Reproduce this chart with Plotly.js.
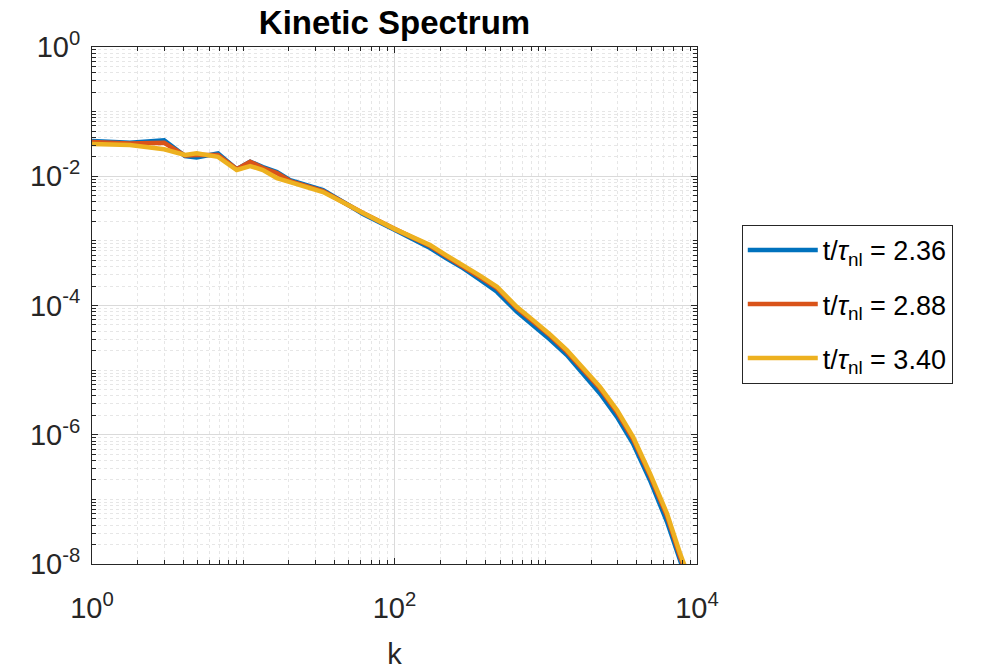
<!DOCTYPE html>
<html>
<head>
<meta charset="utf-8">
<script src="https://cdn.plot.ly/plotly-3.0.1.min.js"></script>
<style>html,body{margin:0;padding:0;background:#fff;}#chart{width:986px;height:670px;}</style>
</head>
<body>
<div id="chart"></div>
<script>
// wavenumbers shared by the three spectra
var k = [1, 1.78, 3.0, 4.12, 4.92, 6.81, 9.05, 11.1, 13.5, 16.7, 20.4, 33.7, 50.8, 61.9, 100.7, 130.6, 172, 219, 284, 367, 476, 643, 824, 1067, 1380, 1771, 2284, 2958, 3776, 4889, 6334, 7720, 8990];
// t/tau_nl = 2.36
var E_236 = [0.0351, 0.0330, 0.0360, 0.0205, 0.0195, 0.0226, 0.0129, 0.0168, 0.0139, 0.0116, 0.00873, 0.00611, 0.00346, 0.00260, 0.00147, 1.07e-3, 7.74e-4, 5.42e-4, 3.79e-4, 2.52e-4, 1.63e-4, 8.05e-5, 4.97e-5, 2.97e-5, 1.71e-5, 8.83e-6, 4.36e-6, 1.89e-6, 7.33e-7, 1.98e-7, 4.49e-8, 1.15e-8, 4.0e-9];
// t/tau_nl = 2.88
var E_288 = [0.0338, 0.0322, 0.0330, 0.0209, 0.0213, 0.0213, 0.0129, 0.0168, 0.0134, 0.0112, 0.00843, 0.00590, 0.00346, 0.00269, 0.00152, 1.13e-3, 8.31e-4, 5.82e-4, 4.07e-4, 2.75e-4, 1.86e-4, 9.12e-5, 5.64e-5, 3.42e-5, 1.93e-5, 1.02e-5, 5.18e-6, 2.24e-6, 8.55e-7, 2.33e-7, 5.50e-8, 1.32e-8, 4.8e-9];
// t/tau_nl = 3.40
var E_340 = [0.0315, 0.0304, 0.0261, 0.0213, 0.0226, 0.0200, 0.0125, 0.0144, 0.0125, 0.00938, 0.00813, 0.00569, 0.00346, 0.00269, 0.00152, 1.15e-3, 8.61e-4, 6.03e-4, 4.22e-4, 2.90e-4, 1.95e-4, 9.55e-5, 5.94e-5, 3.57e-5, 2.04e-5, 1.09e-5, 5.52e-6, 2.41e-6, 9.29e-7, 2.52e-7, 6.05e-8, 1.47e-8, 5.6e-9];

var seriesNames = ['t/<i>τ</i><sub>nl</sub> = 2.36', 't/<i>τ</i><sub>nl</sub> = 2.88', 't/<i>τ</i><sub>nl</sub> = 3.40'];
var seriesColors = ['#0072BD', '#D95319', '#EDB120'];
var seriesE = [E_236, E_288, E_340];

var xTickVals = [1, 100, 10000];
var xTickText = ['10<sup>0</sup>', '10<sup>2</sup>', '10<sup>4</sup>'];
var yTickVals = [1e-8, 1e-6, 1e-4, 1e-2, 1];
var yTickText = ['10<sup>-8</sup>', '10<sup>-6</sup>', '10<sup>-4</sup>', '10<sup>-2</sup>', '10<sup>0</sup>'];

var traces = seriesE.map(function (E, i) {
  return {
    x: k, y: E, type: 'scatter', mode: 'lines',
    name: seriesNames[i], legendgroup: 'g' + i,
    line: {color: seriesColors[i], width: 4.5},
    hoverinfo: 'skip'
  };
});

var FONT = 'Liberation Sans, Arial, Helvetica, sans-serif';
var axisCommon = {
  type: 'log',
  showline: true, linecolor: '#262626', linewidth: 1, mirror: 'ticks',
  ticks: 'inside', ticklen: 6, tickcolor: '#262626', tickwidth: 1,
  showgrid: true, gridcolor: '#dadada', gridwidth: 1,
  zeroline: false,
  tickmode: 'array',
  tickfont: {family: FONT, size: 29, color: '#262626'},
  minor: {dtick: 'D1', showgrid: true, gridcolor: '#e6e6e6', griddash: 'dot', gridwidth: 1,
          ticks: 'inside', ticklen: 4, tickcolor: '#262626'}
};

var layout = {
  width: 986, height: 670,
  margin: {l: 92, r: 289, t: 47, b: 106},
  paper_bgcolor: '#ffffff', plot_bgcolor: '#ffffff',
  font: {family: FONT, color: '#262626'},
  title: {text: '<b>Kinetic Spectrum</b>', font: {family: FONT, size: 33, color: '#000000'},
          x: 0.5, xref: 'paper', xanchor: 'center', y: 0.967, yref: 'container', yanchor: 'middle'},
  xaxis: Object.assign({}, axisCommon, {
    range: [0, 4], tickvals: xTickVals, ticktext: xTickText,
    ticklabelstandoff: 18,
    title: {text: 'k', font: {family: FONT, size: 29, color: '#262626'}, standoff: 24}
  }),
  yaxis: Object.assign({}, axisCommon, {
    range: [-8, 0], tickvals: yTickVals, ticktext: yTickText,
    ticklabelstandoff: 5
  }),
  showlegend: true,
  legend: {
    x: 1.074, y: 0.656, xanchor: 'left', yanchor: 'top',
    bordercolor: '#262626', borderwidth: 1, bgcolor: '#ffffff',
    font: {family: FONT, size: 27, color: '#000000'},
    itemwidth: 70, tracegroupgap: 16, traceorder: 'grouped'
  }
};

Plotly.newPlot('chart', traces, layout, {staticPlot: true, displayModeBar: false});
</script>
</body>
</html>
